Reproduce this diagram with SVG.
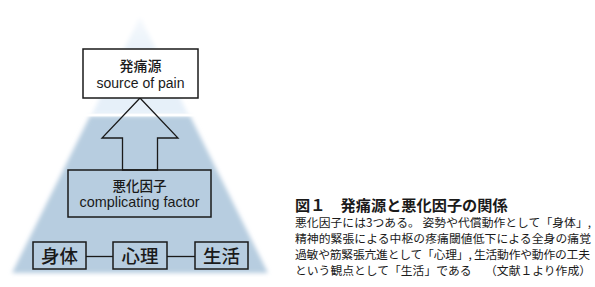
<svg xmlns="http://www.w3.org/2000/svg" width="595" height="287" viewBox="0 0 595 287">
  <defs>
    <filter id="soft" x="-10%" y="-10%" width="120%" height="120%">
      <feGaussianBlur stdDeviation="2.2"/>
    </filter>
    <linearGradient id="lightFade" x1="0" y1="17" x2="0" y2="60" gradientUnits="userSpaceOnUse">
      <stop offset="0" stop-color="#f6f9fd"/>
      <stop offset="1" stop-color="#e6f0f9"/>
    </linearGradient>
  </defs>
  <style>
    .box { fill: none; stroke: #1a1a1a; stroke-width: 1.5; }
    .line { fill: none; stroke: #1a1a1a; stroke-width: 1.3; }
    .jp { font-family: "Noto Sans CJK JP", "Noto Sans", sans-serif; fill: #1a1a1a; text-anchor: middle; }
    .en { font-family: "Liberation Sans", Arial, sans-serif; fill: #1a1a1a; text-anchor: middle; }
    .cap { font-family: "Noto Sans CJK JP", sans-serif; fill: #1a1a1a; }
  </style>

  <!-- background pyramid -->
  <g id="pyramid">
    <polygon points="140,17 188,114 92,114" fill="url(#lightFade)" filter="url(#soft)"/>
    <polygon points="90,116 190,116 268,273 12,273" fill="#b7cde0" filter="url(#soft)"/>
    <rect x="0" y="113.6" width="300" height="2.8" fill="#ffffff"/>
  </g>

  <!-- connectors -->
  <g id="connectors">
    <polygon class="line" points="140,98 178,138 157.5,138 157.5,170 122.5,170 122.5,138 102,138"/>
    <line class="line" x1="86" y1="256.5" x2="113" y2="256.5"/>
    <line class="line" x1="167" y1="256.5" x2="195" y2="256.5"/>
  </g>

  <g id="source">
    <rect class="box" x="83" y="49" width="115" height="49" style="fill:#ffffff"/>
    <text class="jp" x="140.5" y="71" font-size="14" font-weight="500">発痛源</text>
    <text class="en" x="140.5" y="87.5" font-size="14">source of pain</text>
  </g>

  <g id="complicating">
    <rect class="box" x="68" y="170" width="143" height="47"/>
    <text class="jp" x="139.5" y="191" font-size="13.5" font-weight="500">悪化因子</text>
    <text class="en" x="139.5" y="206.5" font-size="14.4">complicating factor</text>
  </g>

  <g id="body">
    <rect class="box" x="33" y="242" width="53" height="27"/>
    <text class="jp" x="59.5" y="262.5" font-size="18.5" font-weight="500">身体</text>
  </g>
  <g id="mind">
    <rect class="box" x="113" y="242" width="54" height="27"/>
    <text class="jp" x="140" y="262.5" font-size="18.5" font-weight="500">心理</text>
  </g>
  <g id="life">
    <rect class="box" x="195" y="242" width="53" height="27"/>
    <text class="jp" x="221.5" y="262.5" font-size="18.5" font-weight="500">生活</text>
  </g>

  <g id="caption">
    <text class="cap" x="295" y="210.5" font-size="15.2" font-weight="700">図１　発痛源と悪化因子の関係</text>
    <text class="cap" x="295" y="226.5" font-size="11.8" textLength="296" lengthAdjust="spacing">悪化因子には3つある。 姿勢や代償動作として「身体」,</text>
    <text class="cap" x="295" y="242.5" font-size="11.8" textLength="296" lengthAdjust="spacing">精神的緊張による中枢の疼痛閾値低下による全身の痛覚</text>
    <text class="cap" x="295" y="258.5" font-size="11.8" textLength="295" lengthAdjust="spacing">過敏や筋緊張亢進として「心理」, 生活動作や動作の工夫</text>
    <text class="cap" x="295" y="274.5" font-size="11.8">という観点として「生活」である</text>
    <text class="cap" x="591" y="274.5" font-size="11.8" text-anchor="end">（文献１より作成）</text>
  </g>
</svg>
